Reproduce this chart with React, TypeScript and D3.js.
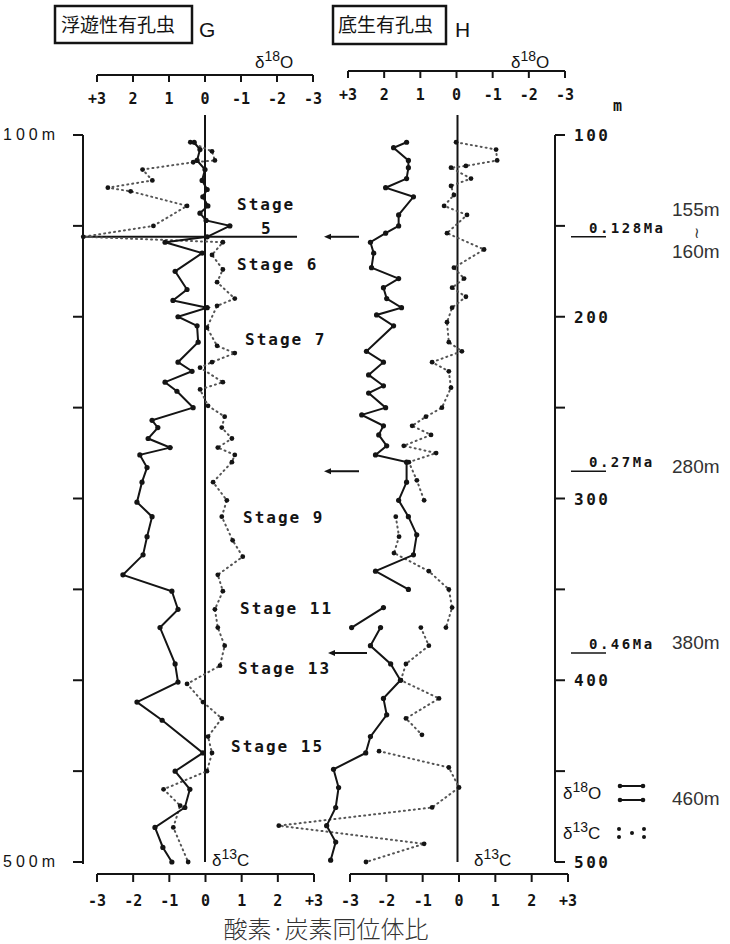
import React from 'react';
import * as d3 from 'd3';

type Pt = [number, number];

// depth (m), value (permil) ; null = gap in the line
const gO18: (Pt | null)[] = [
  [104, 0.3], [108, 0.14], [114, 0.22], [119, 0], [125, 0.08], [130, -0.06], [134, 0.06],
  [139, -0.08], [143, 0.14], [147, -0.03], [150, -0.69], [156, -0.06], [159, 1.11], [165, 0.08],
  [175, 0.83], [185, 0.5], [191, 0.89], [195, -0.06], [200, 0.75], [205, 0.22], [214, 0.19],
  [225, 0.75], [230, 0.36], [236, 1.11], [241, 0.78], [250, 0.33], [257, 1.47], [261, 1.31],
  [267, 1.58], [272, 0.97], [276, 1.81], [283, 1.61], [291, 1.75], [302, 1.89], [310, 1.47],
  [321, 1.61], [331, 1.72], [342, 2.28], [351, 0.92], [361, 0.75], [371, 1.25], [391, 0.83],
  [401, 0.75], [412, 1.89], [422, 1.19], [440, 0.06], [450, 0.83], [460, 0.42], [470, 0.56],
  [481, 1.39], [492, 1.17], [500, 0.92],
];

const gC13: (Pt | null)[] = [
  [104, -0.42], [109, 0.18], [114, 0.26], [115, -0.34], [119, -1.74], [125, -1.47], [129, -2.7],
  [131, -2.07], [139, -0.51], [150, -1.44], [156, -3.38], [159, 0.48], [166, 0.18], [174, 0.48],
  [181, 0.32], [190, 0.81], [194, 0.32], [206, 0.04], [216, 0.32], [220, 0.81], [225, 0.18],
  [228, -0.15], [236, 0.48], [240, -0.15], [249, 0.07], [255, 0.53], [261, 0.45], [267, 0.73],
  [272, 0.34], [276, 0.81], [280, 0.73], [291, 0.21], [301, 0.59], [310, 0.45], [323, 0.75],
  [332, 1.03], [342, 0.34], [351, 0.48], [361, 0.26], [371, 0.34], [381, 0.53], [392, 0.4],
  [402, -0.51], [412, -0.07], [421, 0.45], [431, 0.07], [440, 0.18], [450, 0.04], [460, -1.16],
  [469, -0.7], [481, -0.89], [500, -0.48],
];

const hO18: (Pt | null)[] = [
  [104, 1.38], [107, 1.74], [114, 1.33], [118, 1.33], [124, 1.38], [129, 1.96], [134, 1.19],
  [144, 1.6], [150, 1.6], [154, 1.96], [159, 2.38], [165, 2.29], [173, 2.35], [179, 1.6],
  [184, 2.02], [190, 1.93], [195, 1.52], [199, 2.21], [205, 1.74], [219, 2.49], [225, 2.02],
  [232, 2.43], [238, 2.02], [242, 2.43], [250, 1.96], [254, 2.62], [260, 2.02], [265, 2.15],
  [271, 1.93], [276, 2.24], [280, 1.38], [291, 1.38], [301, 1.6], [310, 1.33], [320, 1.1],
  [331, 1.19], [340, 2.24], [350, 1.33], null,
  [360, 2.02], [371, 2.9], null,
  [371, 2.1], [381, 2.38], [391, 1.82], [400, 1.55], [410, 2.02], [419, 1.93], [431, 2.38],
  [440, 2.51], [449, 3.4], [459, 3.26], [470, 3.34], [480, 3.59], [489, 3.34], [499, 3.48],
];

const hC13: (Pt | null)[] = [
  [104, -0.08], [108, 1.02], [114, 1.05], [117, 0.19], [118, -0.22], [124, 0.33], [128, -0.22],
  [133, -0.14], [139, -0.41], [144, 0.22], [154, -0.33], [163, 0.69], [173, -0.14], [179, 0.14],
  [184, -0.19], [189, 0.19], [195, -0.19], [203, -0.33], [214, -0.28], [219, 0.08], [225, -0.74],
  [230, -0.28], [239, -0.22], [250, -0.47], [255, -0.91], [260, -1.29], [265, -0.77], [271, -1.52],
  [275, -0.63], [280, -1.38], [290, -1.16], [301, -0.96], null,
  [310, -1.74], [321, -1.65], [330, -1.79], [340, -0.83], [350, -0.28], [360, -0.19], [371, -0.36], null,
  [371, -1.05], [381, -0.83], [391, -1.46], [400, -1.6], [410, -0.55], [421, -1.46], [430, -1.02], null,
  [439, -2.2], [448, -0.28], [459, 0], [470, -0.74], [480, -4.96], [490, -0.96], [500, -2.56],
];

const topTicks = [3, 2, 1, 0, -1, -2, -3];
const topLabels = ['+3', '2', '1', '0', '-1', '-2', '-3'];
const bottomTicks = [-3, -2, -1, 0, 1, 2, 3];
const bottomLabels = ['-3', '-2', '-1', '0', '1', '2', '+3'];
const depthTicks = [100, 150, 200, 250, 300, 350, 400, 450, 500];
const depthLabels = [100, 200, 300, 400, 500];

const stages = [
  { name: 'Stage', depth: 138, x: 237 },
  { name: '5', depth: 151, x: 261 },
  { name: 'Stage 6', depth: 171, x: 237 },
  { name: 'Stage 7', depth: 212, x: 245 },
  { name: 'Stage 9', depth: 310, x: 243 },
  { name: 'Stage 11', depth: 360, x: 240 },
  { name: 'Stage 13', depth: 393, x: 238 },
  { name: 'Stage 15', depth: 436, x: 231 },
];

const ageMarks = [
  { depth: 156, age: '0.128Ma' },
  { depth: 285, age: '0.27Ma' },
  { depth: 385, age: '0.46Ma' },
];

const ink = '#141414';
const mono = '"DejaVu Sans Mono", monospace';
const cjk = '"Noto Sans CJK JP", sans-serif';
const sans = '"Liberation Sans", Arial, sans-serif';

const y = d3.scaleLinear().domain([100, 500]).range([135, 862]);
const xO18G = d3.scaleLinear().domain([3, -3]).range([97, 313]);
const xC13G = d3.scaleLinear().domain([-3, 3]).range([97, 314]);
const xO18H = d3.scaleLinear().domain([3, -3]).range([348, 565]);
const xC13H = d3.scaleLinear().domain([-3, 3]).range([350, 568]);

function Series({ data, x, dotted }: { data: (Pt | null)[]; x: d3.ScaleLinear<number, number>; dotted?: boolean }) {
  const line = d3.line<Pt | null>()
    .defined(d => d !== null)
    .x(d => x((d as Pt)[1]))
    .y(d => y((d as Pt)[0]));
  const pts = data.filter(d => d !== null) as Pt[];
  return (
    <g>
      <path
        d={line(data) || ''}
        fill="none"
        stroke={dotted ? '#555' : ink}
        strokeWidth={2}
        strokeDasharray={dotted ? '1 4' : undefined}
        strokeLinecap="round"
      />
      {pts.map((p, i) => (
        <circle key={i} cx={x(p[1])} cy={y(p[0])} r={dotted ? 2.4 : 2.6} fill={ink} />
      ))}
    </g>
  );
}

function TopAxis({ x, yPos }: { x: d3.ScaleLinear<number, number>; yPos: number }) {
  const [a, b] = x.range();
  return (
    <g>
      <line x1={a} x2={b} y1={yPos} y2={yPos} stroke={ink} strokeWidth={2} />
      {topTicks.map((t, i) => (
        <g key={t}>
          <line x1={x(t)} x2={x(t)} y1={yPos} y2={yPos + 7} stroke={ink} strokeWidth={2} />
          <text x={x(t)} y={yPos + 29} textAnchor="middle" fontFamily={mono} fontWeight="bold" fontSize={15} fill={ink}>
            {topLabels[i]}
          </text>
        </g>
      ))}
    </g>
  );
}

function BottomAxis({ x, yPos }: { x: d3.ScaleLinear<number, number>; yPos: number }) {
  const [a, b] = x.range();
  return (
    <g>
      <line x1={a} x2={b} y1={yPos} y2={yPos} stroke={ink} strokeWidth={2} />
      {bottomTicks.map((t, i) => (
        <g key={t}>
          <line x1={x(t)} x2={x(t)} y1={yPos} y2={yPos + 8} stroke={ink} strokeWidth={2} />
          <text x={x(t)} y={yPos + 32} textAnchor="middle" fontFamily={mono} fontWeight="bold" fontSize={15} fill={ink}>
            {bottomLabels[i]}
          </text>
        </g>
      ))}
    </g>
  );
}

function Delta({ x, yPos, sup, el }: { x: number; yPos: number; sup: string; el: string }) {
  return (
    <text x={x} y={yPos} fontFamily={sans} fontSize={17} fill={ink}>
      δ<tspan dy={-7} fontSize={14}>{sup}</tspan><tspan dy={7}>{el}</tspan>
    </text>
  );
}

function Arrow({ x1, x2, yPos }: { x1: number; x2: number; yPos: number }) {
  return (
    <g>
      <line x1={x1 + 4} x2={x2} y1={yPos} y2={yPos} stroke={ink} strokeWidth={2} />
      <path d={`M${x1},${yPos} l7,-3 l0,6 z`} fill={ink} />
    </g>
  );
}

export default function App() {
  const leftAxisX = 83;
  const rightAxisX = 555;
  return (
    <svg width={730} height={944} style={{ position: 'absolute', left: 0, top: 0, background: '#fff' }}>
      {/* headers */}
      <rect x={55} y={6} width={137} height={37} fill="none" stroke={ink} strokeWidth={2.5} />
      <text x={61} y={32} fontFamily={cjk} fontSize={19} fill={ink}>浮遊性有孔虫</text>
      <text x={199} y={37} fontFamily={sans} fontSize={21} fill={ink}>G</text>
      <rect x={333} y={6} width={113} height={38} fill="none" stroke={ink} strokeWidth={2.5} />
      <text x={338} y={32} fontFamily={cjk} fontSize={19} fill={ink}>底生有孔虫</text>
      <text x={455} y={37} fontFamily={sans} fontSize={21} fill={ink}>H</text>

      {/* top axes */}
      <Delta x={255} yPos={68} sup="18" el="O" />
      <Delta x={511} yPos={68} sup="18" el="O" />
      <TopAxis x={xO18G} yPos={75} />
      <TopAxis x={xO18H} yPos={71} />

      {/* bottom axes */}
      <BottomAxis x={xC13G} yPos={874} />
      <BottomAxis x={xC13H} yPos={874} />
      <Delta x={212} yPos={866} sup="13" el="C" />
      <Delta x={474} yPos={866} sup="13" el="C" />

      {/* zero lines */}
      <line x1={xO18G(0)} x2={xO18G(0)} y1={115} y2={862} stroke={ink} strokeWidth={2} />
      <line x1={xO18H(0) + 1} x2={xO18H(0) + 1} y1={115} y2={862} stroke={ink} strokeWidth={2} />

      {/* left depth axis */}
      <line x1={leftAxisX} x2={leftAxisX} y1={y(100)} y2={y(500) + 2} stroke={ink} strokeWidth={2} />
      {depthTicks.map(t => (
        <line key={t} x1={leftAxisX - 10} x2={leftAxisX} y1={y(t)} y2={y(t)} stroke={ink} strokeWidth={2} />
      ))}
      <text x={3} y={y(100) + 5} fontFamily={sans} fontSize={16} textLength={52} fill={ink}>100m</text>
      <text x={3} y={y(500) + 5} fontFamily={sans} fontSize={16} textLength={52} fill={ink}>500m</text>

      {/* right depth axis */}
      <line x1={rightAxisX} x2={rightAxisX} y1={y(100)} y2={y(500)} stroke={ink} strokeWidth={2} />
      {depthTicks.map(t => (
        <line key={t} x1={rightAxisX} x2={rightAxisX + 10} y1={y(t)} y2={y(t)} stroke={ink} strokeWidth={2} />
      ))}
      {depthLabels.map(t => (
        <text key={t} x={574} y={y(t) + 6} fontFamily={mono} fontWeight="bold" fontSize={16} letterSpacing={2.5} fill={ink}>{t}</text>
      ))}
      <text x={613} y={111} fontFamily={mono} fontWeight="bold" fontSize={15} fill={ink}>m</text>

      {/* stage 5/6 boundary line */}
      <line x1={leftAxisX} x2={297} y1={y(156)} y2={y(156)} stroke={ink} strokeWidth={2} />

      {/* stage labels */}
      {stages.map(s => (
        <text key={s.name + s.depth} x={s.x} y={y(s.depth) + 6} fontFamily={mono} fontWeight="bold" fontSize={16}
          letterSpacing={2} fill={ink}>{s.name}</text>
      ))}

      {/* series */}
      <Series data={gC13} x={xC13G} dotted />
      <Series data={gO18} x={xO18G} />
      <Series data={hC13} x={xC13H} dotted />
      <Series data={hO18} x={xO18H} />

      {/* age markers */}
      {ageMarks.map((m, i) => (
        <g key={m.age}>
          <Arrow x1={i === 2 ? 328 : 324} x2={i === 2 ? 367 : 359} yPos={y(m.depth)} />
          <line x1={571} x2={606} y1={y(m.depth)} y2={y(m.depth)} stroke={ink} strokeWidth={1.5} />
          <text x={589} y={y(m.depth) - 4} fontFamily={mono} fontWeight="bold" fontSize={14} letterSpacing={2.5} fill={ink}>{m.age}</text>
        </g>
      ))}

      {/* added annotations */}
      <text x={672} y={216} fontFamily={sans} fontSize={19} fill="#333">155m</text>
      <text x={694} y={238} fontFamily={sans} fontSize={15} fill="#333">≀</text>
      <text x={672} y={258} fontFamily={sans} fontSize={19} fill="#333">160m</text>
      <text x={672} y={473} fontFamily={sans} fontSize={19} fill="#333">280m</text>
      <text x={672} y={649} fontFamily={sans} fontSize={19} fill="#333">380m</text>
      <text x={672} y={805} fontFamily={sans} fontSize={19} fill="#333">460m</text>

      {/* legend */}
      <Delta x={563} yPos={799} sup="18" el="O" />
      <line x1={618} x2={645} y1={786} y2={786} stroke={ink} strokeWidth={2} />
      <circle cx={620} cy={786} r={2.3} fill={ink} />
      <circle cx={643} cy={786} r={2.3} fill={ink} />
      <line x1={618} x2={645} y1={800} y2={800} stroke={ink} strokeWidth={2} />
      <circle cx={620} cy={800} r={2.3} fill={ink} />
      <circle cx={643} cy={800} r={2.3} fill={ink} />
      <Delta x={563} yPos={839} sup="13" el="C" />
      {[[619, 829], [619, 837], [632, 833], [644, 829], [644, 837]].map((p, i) => (
        <circle key={i} cx={p[0]} cy={p[1]} r={2} fill={ink} />
      ))}

      {/* title */}
      <text x={326} y={938} textAnchor="middle" fontFamily={cjk} fontWeight={300} fontSize={24} fill="#333">
        酸素·炭素同位体比
      </text>
    </svg>
  );
}
